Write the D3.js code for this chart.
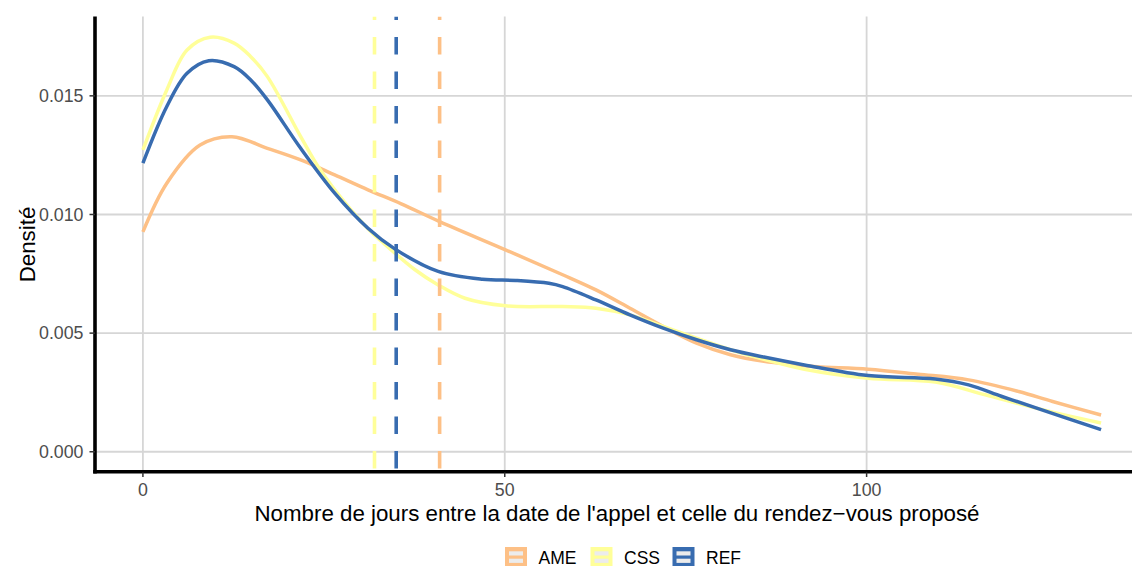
<!DOCTYPE html>
<html><head><meta charset="utf-8">
<script src="https://cdn.jsdelivr.net/npm/d3@7"></script>
<style>body{margin:0;background:#fff}svg{display:block;font-family:"Liberation Sans",Arial,sans-serif}</style>
</head><body><svg id="c" width="1132" height="568"></svg>
<script>
// ---- data ----
const groups = ["AME", "CSS", "REF"];
const groupColors = ["#FDC086", "#FFFF99", "#386CB0"];
const ameDays = [0, 3.3, 7.9, 12.3, 17.2, 21.8, 26.5, 31.1, 35.7, 41.0, 50.1, 58.0, 62.6, 67.3, 71.9, 76.5, 81.2, 85.8, 90.4, 93.2, 100.2, 107.1, 114.1, 121.0, 125.7, 132.4];
const ameDens = [0.00927, 0.01132, 0.01293, 0.01328, 0.01279, 0.0123, 0.01167, 0.01104, 0.01045, 0.0097, 0.00851, 0.00746, 0.00682, 0.00605, 0.00528, 0.00458, 0.00409, 0.00381, 0.00366, 0.00358, 0.00348, 0.00327, 0.00303, 0.00254, 0.00212, 0.00155];
const cssDays = [0, 3.3, 6.1, 9.3, 12.6, 14.9, 17.2, 21.8, 24.2, 26.5, 31.1, 33.0, 37.6, 40.8, 44.5, 50.1, 58.0, 62.6, 67.3, 71.9, 76.5, 81.2, 85.8, 91.4, 100.2, 109.5, 116.4, 123.4, 132.4];
const cssDens = [0.01272, 0.01525, 0.01693, 0.01747, 0.01722, 0.01665, 0.01581, 0.01328, 0.01202, 0.01104, 0.0094, 0.00886, 0.00767, 0.00703, 0.00647, 0.00615, 0.00612, 0.00605, 0.00577, 0.00528, 0.00479, 0.0043, 0.0039, 0.00348, 0.0031, 0.00294, 0.0024, 0.00184, 0.00121];
const refDays = [0, 3.3, 6.1, 9.1, 12.6, 14.9, 17.2, 21.8, 26.5, 31.1, 34.8, 40.8, 46.9, 51.5, 56.1, 58.0, 62.6, 67.3, 71.9, 76.5, 81.2, 85.8, 91.4, 100.2, 109.5, 114.1, 118.7, 123.4, 132.4];
const refDens = [0.01216, 0.01455, 0.01595, 0.01648, 0.01623, 0.01567, 0.01483, 0.01279, 0.0109, 0.00942, 0.00855, 0.0076, 0.00727, 0.00722, 0.00710, 0.00696, 0.0064, 0.00577, 0.00521, 0.00472, 0.0043, 0.00399, 0.00366, 0.00321, 0.00307, 0.00282, 0.00233, 0.00185, 0.00093];
const groupMeans = [41.0, 32.0, 35.0];
const xTicks = [0, 50, 100];
const yTicks = [0, 0.005, 0.010, 0.015];
const yTickLabels = ["0.000", "0.005", "0.010", "0.015"];
const xTitle = "Nombre de jours entre la date de l'appel et celle du rendez\u2212vous proposé";
const yTitle = "Densité";

// ---- layout ----
const svg = d3.select("#c");
const pL = 95, pR = 1149, pT = 16.5, pB = 472.5;
const x = d3.scaleLinear().domain([-6.62, 139.02]).range([pL, pR]);
const y = d3.scaleLinear().domain([-0.000874, 0.018344]).range([pB, pT]);

const series = [
  {name: groups[0], color: groupColors[0], pts: ameDays.map((d, i) => [d, ameDens[i]])},
  {name: groups[1], color: groupColors[1], pts: cssDays.map((d, i) => [d, cssDens[i]])},
  {name: groups[2], color: groupColors[2], pts: refDays.map((d, i) => [d, refDens[i]])}
];

svg.append("defs").append("clipPath").attr("id", "clip")
  .append("rect").attr("x", pL).attr("y", pT).attr("width", pR - pL).attr("height", pB - pT);

// grid
const grid = svg.append("g");
grid.selectAll(".gy").data(yTicks).join("line")
  .attr("x1", pL).attr("x2", pR).attr("y1", d => y(d)).attr("y2", d => y(d))
  .attr("stroke", "#d6d6d6").attr("stroke-width", 1.8);
grid.selectAll(".gx").data(xTicks).join("line")
  .attr("y1", pT).attr("y2", pB).attr("x1", d => x(d)).attr("x2", d => x(d))
  .attr("stroke", "#d6d6d6").attr("stroke-width", 1.8);

const plot = svg.append("g").attr("clip-path", "url(#clip)");
const line = d3.line().x(d => x(d[0])).y(d => y(d[1])).curve(d3.curveCatmullRom.alpha(0.5));
plot.selectAll(".dens").data(series).join("path")
  .attr("d", d => line(d.pts)).attr("fill", "none")
  .attr("stroke", d => d.color).attr("stroke-width", 3.5).attr("stroke-linecap", "butt");

plot.selectAll(".mean").data(groupMeans).join("line")
  .attr("x1", d => x(d)).attr("x2", d => x(d)).attr("y1", pT).attr("y2", pB)
  .attr("stroke", (d, i) => groupColors[i]).attr("stroke-width", 3.6)
  .attr("stroke-dasharray", "17.5,17").attr("stroke-dashoffset", 14);

// axes lines
svg.append("line").attr("x1", pL).attr("x2", pL).attr("y1", pT).attr("y2", pB + 1)
  .attr("stroke", "#000").attr("stroke-width", 3.6);
svg.append("line").attr("x1", pL - 1.8).attr("x2", pR).attr("y1", pB - 0.8).attr("y2", pB - 0.8)
  .attr("stroke", "#000").attr("stroke-width", 3.6);

// ticks
svg.selectAll(".ty").data(yTicks).join("line")
  .attr("x1", pL - 5.5).attr("x2", pL).attr("y1", d => y(d)).attr("y2", d => y(d))
  .attr("stroke", "#333").attr("stroke-width", 1.5);
svg.selectAll(".tyl").data(yTicks).join("text")
  .attr("x", 83.5).attr("y", d => y(d) + 6.3).attr("text-anchor", "end")
  .attr("font-size", 17.8).attr("fill", "#4D4D4D").text((d, i) => yTickLabels[i]);
svg.selectAll(".tx").data(xTicks).join("line")
  .attr("x1", d => x(d)).attr("x2", d => x(d)).attr("y1", pB).attr("y2", pB + 4.5)
  .attr("stroke", "#333").attr("stroke-width", 1.5);
svg.selectAll(".txl").data(xTicks).join("text")
  .attr("x", d => x(d)).attr("y", 495.8).attr("text-anchor", "middle")
  .attr("font-size", 17.8).attr("fill", "#4D4D4D").text(d => d);

// titles
svg.append("text").attr("x", (pL + pR) / 2 - 5).attr("y", 520.7).attr("text-anchor", "middle")
  .attr("font-size", 22.3).attr("fill", "#000").text(xTitle);
svg.append("text").attr("transform", `translate(35,${(pT + pB) / 2}) rotate(-90)`)
  .attr("text-anchor", "middle").attr("font-size", 22.3).attr("fill", "#000").text(yTitle);

// legend
const lg = svg.append("g");
const keyW = 22, keyH = 19, keyY = 547;
const startX = [505, 590.5, 672.5];
groups.forEach((g, i) => {
  const kx = startX[i];
  lg.append("rect").attr("x", kx).attr("y", keyY).attr("width", keyW).attr("height", keyH).attr("fill", groupColors[i]);
  lg.append("rect").attr("x", kx + 4).attr("y", keyY + 4.3).attr("width", keyW - 8).attr("height", 4.2).attr("fill", "#ececec");
  lg.append("rect").attr("x", kx + 4).attr("y", keyY + 11.7).attr("width", keyW - 8).attr("height", 4.2).attr("fill", "#ececec");
  lg.append("text").attr("x", kx + keyW + 11.5).attr("y", 564).attr("font-size", 17.5).attr("fill", "#000").text(g);
});
</script></body></html>
